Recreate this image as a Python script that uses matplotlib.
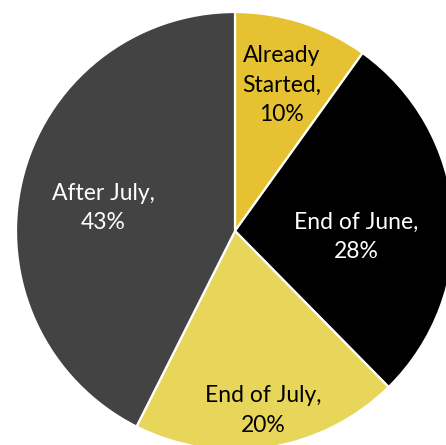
import matplotlib
import matplotlib.pyplot as plt
import numpy as np

matplotlib.use("Agg")

# Data
categories = ["Already\nStarted,", "End of June,", "End of July,", "After July,"]
shares = [10, 28, 20, 43]
colors = ["#E6C233", "#000000", "#E8D65B", "#434343"]
text_colors = ["black", "white", "black", "white"]
label_radius = [0.70, 0.553, 0.83, 0.612]
label_turn = [0.0, -7.3, 0.0, 3.5]  # degrees, nudges labels like Excel's best fit

fig = plt.figure(figsize=(4.46, 4.45), dpi=100)
ax = fig.add_axes([0, 0, 1, 1])

wedges, _ = ax.pie(
    shares,
    colors=colors,
    startangle=90,
    counterclock=False,
    radius=1.0,
    wedgeprops=dict(edgecolor="white", linewidth=1.6),
)

for w, cat, val, tc, r, turn in zip(wedges, categories, shares, text_colors,
                                    label_radius, label_turn):
    mid = np.deg2rad((w.theta1 + w.theta2) / 2 + turn)
    ax.text(
        r * np.cos(mid),
        r * np.sin(mid),
        f"{cat}\n{val}%",
        ha="center",
        va="center",
        fontsize=16.5,
        color=tc,
        family="Lato",
        linespacing=1.5,
    )

# pie is cropped by the figure on the right and bottom
ax.set_xlim(-235 / 219, 211 / 219)
ax.set_ylim(-214 / 219, 231 / 219)
ax.set_aspect("equal")
ax.axis("off")

fig.savefig("out.png", dpi=100, facecolor="white")
plt.close(fig)
